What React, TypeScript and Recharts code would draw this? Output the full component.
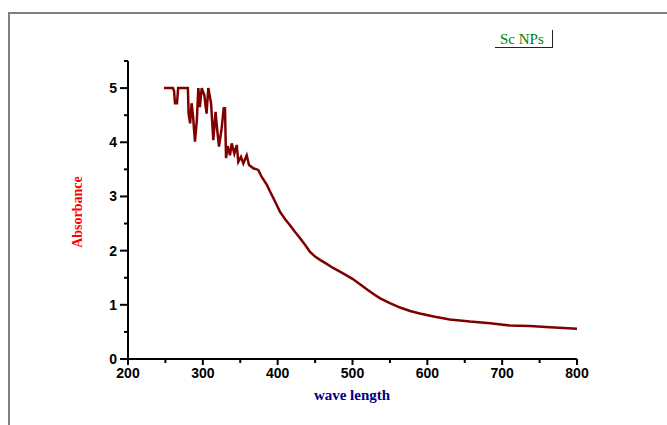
import { Line, LineChart, XAxis, YAxis } from "recharts";

const wavelength = [
  248, 260, 261.5, 262.8, 265.5, 267, 276, 280, 281, 283, 285, 287, 289.5, 292, 294, 296,
  298.5, 302, 305, 307.3, 311, 314, 317, 318.5, 321.6, 325.2, 327.9, 329.6, 331, 333.2,
  336.3, 338.6, 342.1, 345.3, 347.4, 351, 354.1, 358.6, 361.7, 367.5, 374.1, 378.7, 385.4,
  389.8, 396, 403, 410, 416.5, 423, 430, 437, 443, 450, 456.6, 465, 474, 485, 500, 510, 520,
  530, 537, 550, 563.5, 577, 590, 610, 630, 657, 684, 710, 737, 764, 800,
];

const absorbance = [
  5.0, 5.0, 4.95, 4.72, 4.72, 5.0, 5.0, 5.0, 4.53, 4.35, 4.72, 4.47, 4.01, 4.41, 5.0, 4.65,
  5.0, 4.87, 4.53, 5.0, 4.72, 4.04, 4.56, 4.32, 3.92, 4.26, 4.63, 4.63, 3.71, 3.93,
  3.76, 3.98, 3.79, 3.95, 3.64, 3.73, 3.61, 3.76, 3.58, 3.52, 3.49, 3.36, 3.22,
  3.09, 2.92, 2.72, 2.58, 2.47, 2.35, 2.23, 2.1, 1.98, 1.89, 1.83, 1.76, 1.68, 1.6, 1.48, 1.38, 1.28,
  1.18, 1.12, 1.03, 0.95, 0.886, 0.84, 0.78, 0.73, 0.69, 0.66, 0.62, 0.61, 0.585, 0.56,
];

const xTicks = [200, 250, 300, 350, 400, 450, 500, 550, 600, 650, 700, 750, 800];
const yTicks = [0, 0.5, 1, 1.5, 2, 2.5, 3, 3.5, 4, 4.5, 5, 5.5];

const data = wavelength.map((x, i) => ({ x, y: absorbance[i] }));

const TICK_FONT = "'Liberation Sans', Arial, sans-serif";
const SERIF = "'Liberation Serif', 'Times New Roman', serif";

function XTick({ x, y, payload }: any) {
  const major = payload.value % 100 === 0;
  return (
    <g>
      <line x1={x} x2={x} y1={y} y2={y + (major ? 6 : 4)} stroke="#000" strokeWidth={2} />
      {major && (
        <text x={x} y={y + 19} textAnchor="middle" fontFamily={TICK_FONT} fontWeight="bold" fontSize={14} fill="#000">
          {payload.value}
        </text>
      )}
    </g>
  );
}

function YTick({ x, y, payload }: any) {
  const major = payload.value % 1 === 0;
  return (
    <g>
      <line x1={x - (major ? 8 : 4)} x2={x} y1={y} y2={y} stroke="#000" strokeWidth={2} />
      {major && (
        <text x={x - 11} y={y + 5} textAnchor="end" fontFamily={TICK_FONT} fontWeight="bold" fontSize={14} fill="#000">
          {payload.value}
        </text>
      )}
    </g>
  );
}

// legend box drawn like the original: text with an underline and a right edge
function LegendBox() {
  return (
    <div style={{ position: "absolute", left: 495, top: 30, width: 58, height: 18 }}>
      <span
        style={{
          position: "absolute",
          left: 5,
          top: 0,
          fontFamily: SERIF,
          fontSize: 15,
          color: "#008000",
          lineHeight: "18px",
        }}
      >
        Sc NPs
      </span>
      <div style={{ position: "absolute", left: 0, top: 17, width: 58, borderTop: "1px solid #222" }} />
      <div style={{ position: "absolute", left: 57, top: 0, height: 18, borderLeft: "1px solid #222" }} />
    </div>
  );
}

export default function App() {
  return (
    <div style={{ position: "absolute", left: 0, top: 0, width: 667, height: 425, background: "#fff" }}>
      <div
        style={{
          position: "absolute",
          left: 8,
          top: 12,
          width: 657,
          height: 411,
          borderTop: "2px solid #7f7f7f",
          borderLeft: "2px solid #7f7f7f",
        }}
      />
      <LineChart width={667} height={425} data={data} margin={{ top: 61, right: 90, bottom: 0, left: 0 }}>
        <XAxis
          dataKey="x"
          type="number"
          domain={[200, 800]}
          ticks={xTicks}
          interval={0}
          height={66}
          tickSize={0}
          tickMargin={0}
          tickLine={false}
          tick={<XTick />}
          axisLine={{ stroke: "#000", strokeWidth: 2 }}
          label={{
            content: () => (
              <text x={352} y={400} textAnchor="middle" fontFamily={SERIF} fontWeight="bold" fontSize={15} fill="#000080">
                wave length
              </text>
            ),
          }}
        />
        <YAxis
          type="number"
          domain={[0, 5.5]}
          ticks={yTicks}
          interval={0}
          width={128}
          tickSize={0}
          tickMargin={0}
          tickLine={false}
          tick={<YTick />}
          axisLine={{ stroke: "#000", strokeWidth: 2 }}
          label={{
            content: () => (
              <text
                x={82}
                y={212}
                transform="rotate(-90 82 212)"
                textAnchor="middle"
                fontFamily={SERIF}
                fontWeight="bold"
                fontSize={14}
                fill="#ff0000"
              >
                Absorbance
              </text>
            ),
          }}
        />
        <Line
          type="linear"
          dataKey="y"
          stroke="#800000"
          strokeWidth={2.5}
          dot={false}
          isAnimationActive={false}
        />
      </LineChart>
      <LegendBox />
    </div>
  );
}
